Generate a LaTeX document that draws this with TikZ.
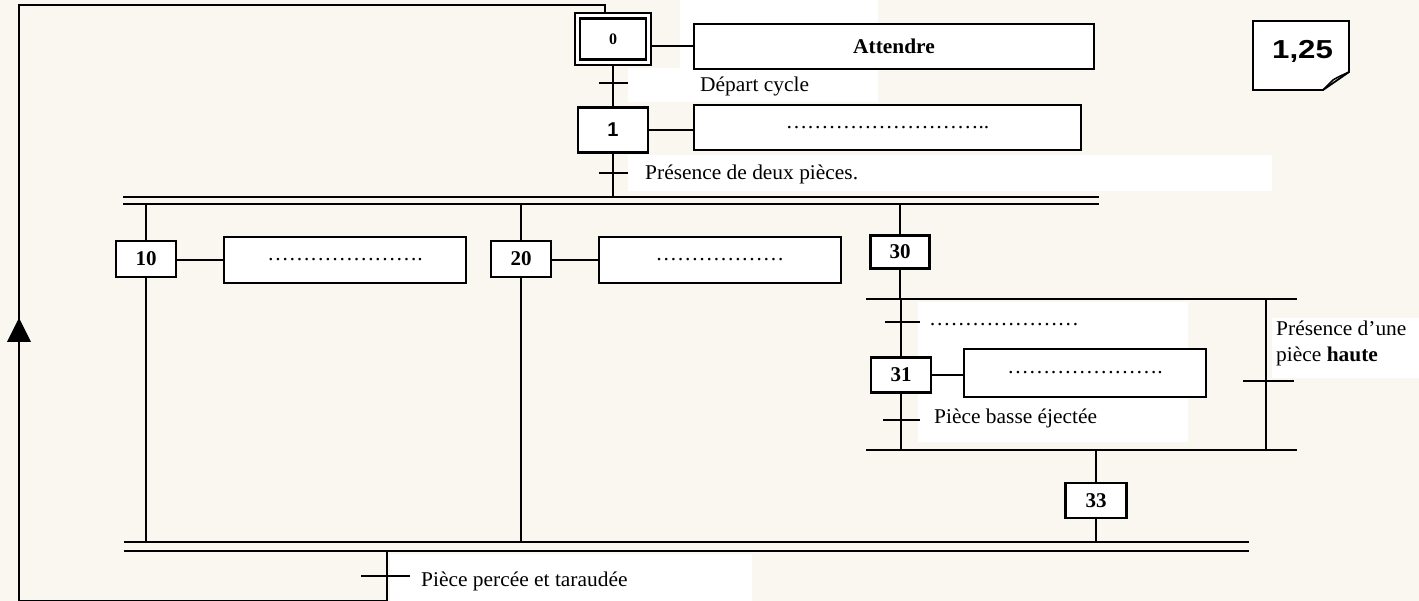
\documentclass[tikz,border=0pt]{standalone}
\usepackage{fontspec}
\setmainfont{Liberation Serif}
\newfontfamily\sansf{Liberation Sans}
\usetikzlibrary{calc}
\newcommand{\wtxt}[1]{\scalebox{1.02}[1]{#1}}
\definecolor{paper}{RGB}{249,247,239}
\begin{document}
\begin{tikzpicture}[x=1pt,y=-1pt,
  link/.style={line width=2pt},
  tickmark/.style={line width=2.2pt},
  stepbox/.style={draw, fill=white, line width=2.2pt, inner sep=0pt, font=\fontsize{21}{21}\selectfont\bfseries},
  actbox/.style={draw, fill=white, line width=2.2pt, inner sep=0pt, font=\fontsize{21}{22}\selectfont},
  lbl/.style={inner sep=0pt, anchor=base west, font=\fontsize{21}{26}\selectfont}]
\useasboundingbox (0,0) rectangle (1419,601);
\clip (0,0) rectangle (1419,601);
\fill[paper] (0,0) rectangle (1419,601);
% white patches behind texts
\fill[white] (680,0) rectangle (878,102);
\fill[white] (628,68) rectangle (680,102);
\fill[white] (628,155) rectangle (1272,191);
\fill[white] (918,302) rectangle (1188,442);
\fill[white] (1272,318) rectangle (1419,378);
\fill[white] (390,554) rectangle (752,601);

% coordinates
\coordinate (b1aL) at (123,197); \coordinate (b1aR) at (1099,197);
\coordinate (b1bL) at (123,204); \coordinate (b1bR) at (1099,204);
\coordinate (b2aL) at (124,542); \coordinate (b2aR) at (1249,542);
\coordinate (b2bL) at (124,551); \coordinate (b2bR) at (1249,551);
\coordinate (orTL) at (866,299); \coordinate (orTR) at (1297,299);
\coordinate (orBL) at (866,450); \coordinate (orBR) at (1297,450);
\coordinate (rb) at (1266,0);
\coordinate (ex) at (387,551);
\coordinate (bot) at (19,601);
\coordinate (topL) at (19,5.5);
\coordinate (topR) at (605,5.5);
\coordinate (s0in) at (605,13);
\coordinate (arr) at (19,330);

% bars
\draw[line width=2.2pt] (b1aL) -- (b1aR);
\draw[line width=2.2pt] (b1bL) -- (b1bR);
\draw[line width=2.2pt] (b2aL) -- (b2aR);
\draw[line width=2.2pt] (b2bL) -- (b2bR);
\draw[link] (orTL) -- (orTR);
\draw[link] (orBL) -- (orBR);

% steps
\node[draw, fill=white, line width=2.4pt, minimum width=76pt, minimum height=52pt] (s0) at (613,39) {};
\node[stepbox, line width=2.4pt, minimum width=66pt, minimum height=41pt, font=\fontsize{16}{16}\selectfont\bfseries] (s0i) at (613,39) {0};
\node[stepbox, minimum width=70pt, minimum height=45pt, font=\fontsize{20}{20}\selectfont\sansf\bfseries] (s1) at (613,130) {1};
\node[stepbox, minimum width=60pt, minimum height=36pt] (s10) at (146,259) {10};
\node[stepbox, minimum width=60pt, minimum height=36pt] (s20) at (521,259) {20};
\node[stepbox, minimum width=59pt, minimum height=33pt] (s30) at (900,252) {30};
\node[stepbox, minimum width=60pt, minimum height=35pt] (s31) at (901,375) {31};
\node[stepbox, minimum width=61pt, minimum height=35pt] (s33) at (1096,500.5) {33};

% actions
\node[actbox, minimum width=400pt, minimum height=45pt] (a0) at (894,46.5) {\wtxt{\bfseries Attendre}};
\node[actbox, minimum width=387pt, minimum height=45pt] (a1) at (887.5,127.5) {\wtxt{………………………..}};
\node[actbox, minimum width=242pt, minimum height=46pt] (a10) at (345,260) {\wtxt{………………….}};
\node[actbox, minimum width=242pt, minimum height=46pt] (a20) at (720,260) {\wtxt{………………}};
\node[actbox, minimum width=242pt, minimum height=48pt] (a31) at (1085,373) {\wtxt{………………….}};

% action connectors
\draw[link] (a0.west) -- (a0.west -| s0.east);
\draw[link] (s1.east) -- (s1.east -| a1.west);
\draw[link] (a10.west) -- (a10.west -| s10.east);
\draw[link] (a20.west) -- (a20.west -| s20.east);
\draw[link] (s31.east) -- (s31.east -| a31.west);

% links
\draw[link] (s0.south) -- (s1.north);
\draw[link] (s1.south) -- (s1.south |- b1aL);
\draw[link] (s10.north |- b1bL) -- (s10.north);
\draw[link] (s20.north |- b1bL) -- (s20.north);
\draw[link] (s30.north |- b1bL) -- (s30.north);
\draw[link] (s10.south) -- (s10.south |- b2aL);
\draw[link] (s20.south) -- (s20.south |- b2aL);
\draw[link] (s30.south) -- (s30.south |- orTL);
\draw[link] (s31.north |- orTL) -- (s31.north);
\draw[link] (s31.south) -- (s31.south |- orBL);
\draw[link] (rb |- orTL) -- (rb |- orBL);
\draw[link] (s33.north |- orBL) -- (s33.north);
\draw[link] (s33.south) -- (s33.south |- b2aL);
\draw[link] (ex) -- (ex |- bot) -- (bot) -- (topL) -- (topR) -- (s0in);
\fill ($(arr)+(0,-12)$) -- ($(arr)+(-12,12)$) -- ($(arr)+(12,12)$) -- cycle;

% transitions
\coordinate (t01) at (613,83);
\coordinate (t12) at (613,173);
\coordinate (t30) at (900,322);
\coordinate (t31) at (901,420);
\coordinate (tR) at (1266,381);
\coordinate (tB) at (387,576);
\draw[tickmark] ($(t01)+(-14.5,0)$) -- ($(t01)+(14.5,0)$);
\draw[tickmark] ($(t12)+(-14.5,0)$) -- ($(t12)+(14.5,0)$);
\draw[tickmark] ($(t30)+(-15,0)$) -- ($(t30)+(20,0)$);
\draw[tickmark] ($(t31)+(-18,0)$) -- ($(t31)+(19,0)$);
\draw[tickmark] ($(tR)+(-23,0)$) -- ($(tR)+(28,0)$);
\draw[tickmark] ($(tB)+(-26,0)$) -- ($(tB)+(23,0)$);

% receptivity labels
\node[lbl] (r01) at (700,92) {\wtxt{Départ cycle}};
\node[lbl] (r12) at (645,180) {\wtxt{Présence de deux pièces.}};
\node[lbl] (r30) at (929,326) {\wtxt{…………………}};
\node[lbl] (r31) at (934,424) {\wtxt{Pièce basse éjectée}};
\node[lbl] (rB) at (421,586) {\wtxt{Pièce percée et taraudée}};
\node[lbl, anchor=north west, align=left] (rR) at (1276,321) {\wtxt{Présence d’une}\\\wtxt{pièce \textbf{haute}}};

% note
\draw[line width=1.8pt, fill=white] (1253,21) -- (1349,21) -- (1349,72) -- (1323,90) -- (1253,90) -- cycle;
\draw[line width=1.5pt] (1323,90) -- (1333,80) .. controls (1338,77) .. (1349,72);
\node[inner sep=0pt, anchor=base, font=\fontsize{26}{26}\selectfont\sansf\bfseries] (note) at (1302.5,59) {\scalebox{1.2}[1]{1,25}};
\end{tikzpicture}
\end{document}
